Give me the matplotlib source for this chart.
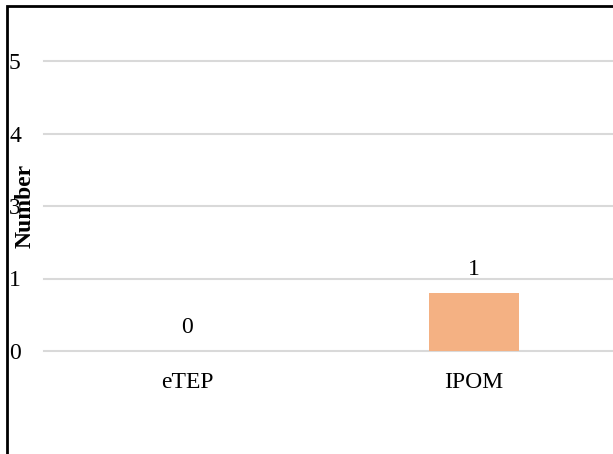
import matplotlib
matplotlib.use("Agg")
import matplotlib.pyplot as plt
from matplotlib.ticker import FuncFormatter
from matplotlib.patches import Rectangle

categories = ["eTEP", "IPOM"]
values = [0, 1]
y_ticks = [0, 1.25, 2.5, 3.75, 5]

plt.rcParams["font.family"] = ["Liberation Serif", "DejaVu Serif"]
FS = 17

W, H = 613, 454
fig = plt.figure(figsize=(W / 100, H / 100), dpi=100)

# plot area in pixel coordinates (extends past the right edge)
left_px, right_px = 43.5, 617.5
bottom_px, top_px = 351, 32
ax = fig.add_axes([left_px / W, 1 - bottom_px / H,
                   (right_px - left_px) / W, (bottom_px - top_px) / H])

x = list(range(len(categories)))
bars = ax.bar(x, values, width=0.313, color="#F4B183", zorder=3)
ax.set_xlim(-0.5, len(categories) - 0.5)
ax.set_ylim(0, (bottom_px - top_px) / 72.5 * 1.25)

ax.set_yticks(y_ticks)
ax.yaxis.set_major_formatter(FuncFormatter(lambda v, p: f"{int(v + 0.5)}"))
ax.grid(axis="y", color="#d9d9d9", linewidth=1.5, zorder=0)
for gl in ax.yaxis.get_gridlines():
    gl.set_clip_on(False)
ax.set_axisbelow(True)
for s in ax.spines.values():
    s.set_visible(False)
ax.tick_params(axis="both", length=0, labelsize=FS)
for lab in ax.get_yticklabels():
    lab.set_horizontalalignment("left")
ax.yaxis.set_tick_params(pad=(left_px - 9) * 0.72)
ax.set_xticks(x)
ax.set_xticklabels(categories)
ax.tick_params(axis="x", pad=15)

for xi, v in zip(x, values):
    ax.annotate(f"{v}", (xi, v), xytext=(0, 17), textcoords="offset points",
                ha="center", va="center", fontsize=FS)

fig.text(25 / W, 1 - 206 / H, "Number", rotation=90, fontsize=FS,
         fontweight="bold", ha="center", va="center")

# outer chart border
fig.patches.append(Rectangle((6.5 / W, -0.1), 1.0, 1 - 5.5 / H + 0.1,
                             transform=fig.transFigure, fill=False,
                             edgecolor="black", linewidth=2))

fig.savefig("out.png", dpi=100)
